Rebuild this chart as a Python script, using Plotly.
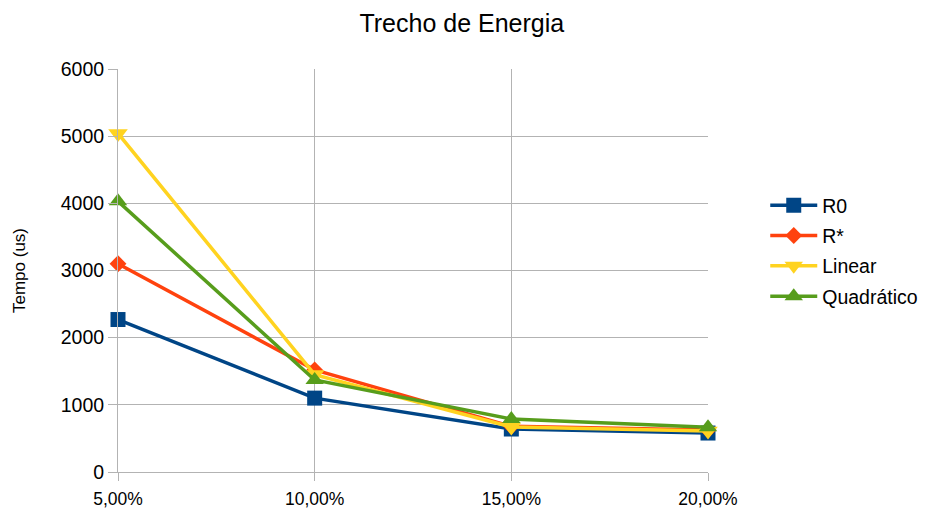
import plotly.graph_objects as go

categories = ["5,00%", "10,00%", "15,00%", "20,00%"]
r0 = [2270, 1100, 640, 580]
rstar = [3100, 1520, 680, 625]
linear = [5040, 1450, 670, 610]
quadratico = [4030, 1370, 790, 665]
y_ticks = [0, 1000, 2000, 3000, 4000, 5000, 6000]

series = [
    ("R0", r0, "#004586", "square", 15),
    ("R*", rstar, "#ff420e", "diamond", 13),
    ("Linear", linear, "#ffd320", "triangle-down", 17),
    ("Quadrático", quadratico, "#579d1c", "triangle-up", 16),
]

fig = go.Figure()
for name, vals, color, sym, size in series:
    fig.add_trace(go.Scatter(
        x=categories, y=vals, name=name, mode="lines+markers",
        legendgroup=name, cliponaxis=False,
        line=dict(color=color, width=3.5),
        marker=dict(symbol=sym, size=size, color=color),
    ))

fig.update_layout(
    width=928, height=511,
    paper_bgcolor="white", plot_bgcolor="white",
    margin=dict(l=110, r=228, t=61, b=47),
    font=dict(family="Liberation Sans, Arial, sans-serif", size=18, color="#000000"),
    title=dict(text="Trecho de Energia", x=0.489, xanchor="center", y=0.971, yanchor="middle",
               font=dict(size=25, color="#000000")),
    legend=dict(xref="container", yref="container", x=0.816, y=0.5245,
                xanchor="left", yanchor="middle",
                font=dict(size=19.5), tracegroupgap=2, itemwidth=47),
    showlegend=True,
)
fig.update_xaxes(
    type="category", range=[0, 3], showgrid=True, gridcolor="#b3b3b3", gridwidth=1,
    showline=True, linecolor="#b3b3b3", ticks="outside", tickcolor="#b3b3b3", ticklen=8,
    tickfont=dict(size=17.5), zeroline=False, automargin=False, ticklabelstandoff=3,
)
fig.update_yaxes(
    range=[0, 6000], tickvals=y_ticks, showgrid=True, gridcolor="#b3b3b3", gridwidth=1,
    showline=True, linecolor="#b3b3b3", ticks="outside", tickcolor="#b3b3b3", ticklen=9,
    tickfont=dict(size=19.5), zeroline=False, automargin=False,
    title=dict(text="Tempo (us)", font=dict(size=17), standoff=30),
)
fig.write_html("out.html")
